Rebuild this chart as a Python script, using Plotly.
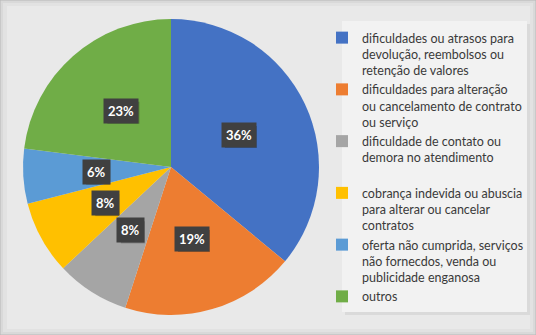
import math
import plotly.graph_objects as go

categories = [
    "dificuldades ou atrasos para<br>devolução, reembolsos ou<br>retenção de valores",
    "dificuldades para alteração<br>ou cancelamento de contrato<br>ou serviço",
    "dificuldade de contato ou<br>demora no atendimento<br> ",
    "cobrança indevida ou abuscia<br>para alterar ou cancelar<br>contratos",
    "oferta não cumprida, serviços<br>não fornecdos, venda ou<br>publicidade enganosa",
    "outros",
]
values = [36, 19, 8, 8, 6, 23]
colors = ["#4472C4", "#ED7D31", "#A5A5A5", "#FFC000", "#5B9BD5", "#70AD47"]

W, H = 536, 335
cx, cy, R = 171, 167, 148  # pie centre / radius in px (from top-left)

dom_x = [(cx - R) / W, (cx + R) / W]
dom_y = [1 - (cy + R) / H, 1 - (cy - R) / H]

fig = go.Figure()
fig.add_trace(go.Pie(
    labels=categories,
    values=values,
    marker=dict(colors=colors, line=dict(width=0)),
    sort=False,
    direction="clockwise",
    rotation=0,
    textinfo="none",
    hoverinfo="label+percent",
    domain=dict(x=dom_x, y=dom_y),
))

def prect(x0, y0, x1, y1, layer="below", **kw):
    return dict(type="rect", xref="paper", yref="paper",
                x0=x0 / W, x1=x1 / W, y0=1 - y1 / H, y1=1 - y0 / H, layer=layer, **kw)

shapes = [
    prect(0, 0, W, H, fillcolor="#d9d9d9", line=dict(color="#b8b8b8", width=1)),
    prect(3, 3, W - 3, H - 3, fillcolor="#e2e2e2", line=dict(width=0)),
    prect(7, 6, W - 6, H - 6, fillcolor="#e9e9e9", line=dict(width=0)),
    # legend box shadow + box
    prect(345, 24, 530, 315, fillcolor="#dadada", line=dict(width=0)),
    prect(342, 21, 527, 312, fillcolor="#f2f2f2", line=dict(width=0)),
]

annotations = []
total = sum(values)
cum = 0
r_lab = 75
for v in values:
    mid = (cum + v / 2) / total * 2 * math.pi
    cum += v
    px = cx + r_lab * math.sin(mid)
    py = cy - r_lab * math.cos(mid)
    pct = round(v / total * 100)
    txt = f"<b>{pct}%</b>"
    hw = (16 if pct >= 10 else 12)
    hh = 11
    # soft drop shadow behind the label box
    shapes.append(prect(px - hw + 2, py - hh + 2, px + hw + 2, py + hh + 2, layer="above",
                        fillcolor="rgba(0,0,0,0.28)", line=dict(width=0)))
    annotations.append(dict(
        x=px / W, y=1 - py / H, xref="paper", yref="paper",
        xanchor="center", yanchor="middle",
        text=txt, showarrow=False,
        font=dict(family="Lato", size=13, color="white"),
        bgcolor="#404040", borderpad=4,
    ))

fig.update_layout(
    width=W, height=H,
    margin=dict(l=0, r=0, t=0, b=0),
    paper_bgcolor="#e6e6e6",
    plot_bgcolor="rgba(0,0,0,0)",
    shapes=shapes,
    annotations=annotations,
    showlegend=True,
    legend=dict(
        x=322 / W, xanchor="left",
        y=1 - 23 / H, yanchor="top",
        bgcolor="rgba(0,0,0,0)",
        font=dict(family="Lato", size=12.5, color="#3a3a3a"),
        valign="top",
        traceorder="normal",
    ),
)

fig.write_html("out.html", config={"displayModeBar": False},
               post_script="document.body.style.margin='0';")
